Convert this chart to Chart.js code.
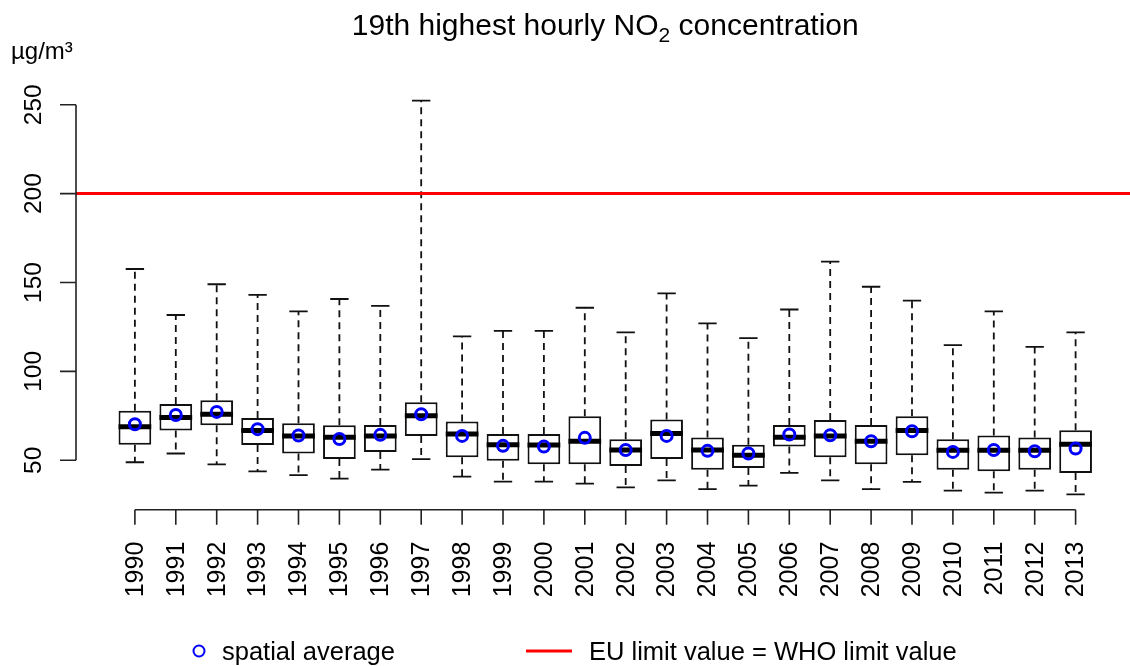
<!DOCTYPE html>
<html><head><meta charset="utf-8">
<script src="https://cdn.jsdelivr.net/npm/chart.js@4"></script>
<style>html,body{margin:0;padding:0;background:#fff;overflow:hidden}canvas{display:block}</style>
</head><body>
<canvas id="c" width="1130" height="666"></canvas>
<script>
const years = ['1990','1991','1992','1993','1994','1995','1996','1997','1998','1999','2000','2001','2002','2003','2004','2005','2006','2007','2008','2009','2010','2011','2012','2013'];
const whiskerMax = [157.6,131.7,149,143,133.8,140.7,136.8,252.3,119.7,122.8,122.8,135.8,121.9,143.9,127,118.7,134.8,161.7,147.6,139.8,114.8,133.8,113.8,121.9];
const q3 = [77.8,81.7,83.8,73.8,70.8,69.7,69.9,82.7,71.8,64.8,64.8,74.8,61.8,72.9,62.8,58.8,69.9,72.7,69.9,74.8,61.8,63.9,62.8,66.9];
const median = [68.8,74,75.9,66.7,63.7,63,63.7,75,64.8,58.8,58.6,60.7,55.8,65,55.8,52.8,63,63.7,60.7,66.7,55.6,55.6,55.6,59];
const q1 = [58.8,66.7,69.7,58.6,53.8,50.7,54.7,63.7,51.7,49.8,47.7,47.7,46.8,50.7,44.7,45.7,57.7,51.7,47.7,52.8,44.7,43.8,44.7,42.9];
const whiskerMin = [48.9,53.8,47.7,43.8,41.7,39.7,44.7,50.7,40.8,38,38,36.9,34.8,38.7,33.8,35.7,42.9,38.7,33.8,37.8,32.9,31.8,32.9,30.8];
const spatialAverage = [70.3,75.5,77.2,67.5,63.9,62,64.3,75.9,63.7,58.1,57.7,62.6,55.8,63.7,55.3,53.8,64.5,64.1,60.7,66.3,54.7,55.8,55.1,56.6];
const yTicks = [50,100,150,200,250];
const limitValue = 200;

const FONT = "'Liberation Sans', Arial, Helvetica, sans-serif";

const boxPlugin = {
  id: 'boxExtras',
  beforeDatasetsDraw(chart) {
    const ctx = chart.ctx, xs = chart.scales.x, ys = chart.scales.y;
    const meta = chart.getDatasetMeta(0);
    ctx.save();
    ctx.strokeStyle = '#111';
    ctx.lineWidth = 1.8;
    years.forEach((_, i) => {
      const el = meta.data[i];
      const x = xs.getPixelForValue(i + 1);
      const half = el.width / 4 + 1;
      ctx.setLineDash([7, 5]);
      ctx.beginPath();
      ctx.moveTo(x, ys.getPixelForValue(q3[i]));
      ctx.lineTo(x, ys.getPixelForValue(whiskerMax[i]));
      ctx.moveTo(x, ys.getPixelForValue(q1[i]));
      ctx.lineTo(x, ys.getPixelForValue(whiskerMin[i]));
      ctx.stroke();
      ctx.setLineDash([]);
      ctx.beginPath();
      ctx.moveTo(x - half, ys.getPixelForValue(whiskerMax[i]));
      ctx.lineTo(x + half, ys.getPixelForValue(whiskerMax[i]));
      ctx.moveTo(x - half, ys.getPixelForValue(whiskerMin[i]));
      ctx.lineTo(x + half, ys.getPixelForValue(whiskerMin[i]));
      ctx.stroke();
    });
    ctx.restore();
  },
  afterDatasetDraw(chart, args) {
    if (args.index !== 0) return;
    const ctx = chart.ctx, ys = chart.scales.y;
    ctx.save();
    ctx.strokeStyle = '#000';
    ctx.lineWidth = 5;
    args.meta.data.forEach((el, i) => {
      const y = ys.getPixelForValue(median[i]);
      ctx.beginPath();
      ctx.moveTo(el.x - el.width / 2, y);
      ctx.lineTo(el.x + el.width / 2, y);
      ctx.stroke();
    });
    ctx.restore();
  },
  afterDraw(chart) {
    const ctx = chart.ctx, xs = chart.scales.x, ys = chart.scales.y, ca = chart.chartArea;
    ctx.save();
    // limit line
    ctx.strokeStyle = '#ff0000';
    ctx.lineWidth = 3;
    ctx.beginPath();
    const yl = ys.getPixelForValue(limitValue);
    ctx.moveTo(ca.left, yl); ctx.lineTo(ca.right, yl);
    ctx.stroke();

    // y axis
    ctx.strokeStyle = '#222';
    ctx.lineWidth = 1.6;
    ctx.beginPath();
    ctx.moveTo(ca.left, ys.getPixelForValue(yTicks[0]));
    ctx.lineTo(ca.left, ys.getPixelForValue(yTicks[yTicks.length - 1]));
    yTicks.forEach(t => {
      const y = ys.getPixelForValue(t);
      ctx.moveTo(ca.left - 16, y); ctx.lineTo(ca.left, y);
    });
    ctx.stroke();
    ctx.fillStyle = '#000';
    ctx.font = `24.5px ${FONT}`;
    yTicks.forEach(t => {
      const y = ys.getPixelForValue(t);
      ctx.save();
      ctx.translate(ca.left - 35, y);
      ctx.rotate(-Math.PI / 2);
      ctx.textAlign = 'center';
      ctx.textBaseline = 'alphabetic';
      ctx.fillText(String(t), 0, 0);
      ctx.restore();
    });

    // x axis
    const yb = ca.bottom;
    ctx.beginPath();
    ctx.moveTo(xs.getPixelForValue(1), yb);
    ctx.lineTo(xs.getPixelForValue(years.length), yb);
    years.forEach((_, i) => {
      const x = xs.getPixelForValue(i + 1);
      ctx.moveTo(x, yb); ctx.lineTo(x, yb + 15);
    });
    ctx.stroke();
    ctx.font = `25px ${FONT}`;
    years.forEach((yr, i) => {
      const x = xs.getPixelForValue(i + 1);
      ctx.save();
      ctx.translate(x + 1, yb + 32);
      ctx.rotate(-Math.PI / 2);
      ctx.textAlign = 'right';
      ctx.textBaseline = 'middle';
      ctx.fillText(yr, 0, 0);
      ctx.restore();
    });

    // unit label
    ctx.font = `24px ${FONT}`;
    ctx.textAlign = 'left';
    ctx.textBaseline = 'alphabetic';
    ctx.fillText('µg/m³', 11, 59);

    // title with subscript
    const cx = xs.getPixelForValue((1 + years.length) / 2);
    const p1 = '19th highest hourly NO', p2 = '2', p3 = ' concentration';
    ctx.font = `30px ${FONT}`;
    const w1 = ctx.measureText(p1).width, w3 = ctx.measureText(p3).width;
    ctx.font = `21px ${FONT}`;
    const w2 = ctx.measureText(p2).width;
    let sx = cx - (w1 + w2 + w3) / 2;
    ctx.font = `30px ${FONT}`;
    ctx.fillText(p1, sx, 35);
    ctx.font = `21px ${FONT}`;
    ctx.fillText(p2, sx + w1, 42);
    ctx.font = `30px ${FONT}`;
    ctx.fillText(p3, sx + w1 + w2, 35);

    // legend
    ctx.strokeStyle = '#0000ff';
    ctx.lineWidth = 2;
    ctx.beginPath();
    ctx.arc(199, 651, 5.5, 0, Math.PI * 2);
    ctx.stroke();
    ctx.font = `25.5px ${FONT}`;
    ctx.fillStyle = '#000';
    ctx.fillText('spatial average', 222, 660);
    ctx.strokeStyle = '#ff0000';
    ctx.lineWidth = 3;
    ctx.beginPath();
    ctx.moveTo(526, 651); ctx.lineTo(572, 651);
    ctx.stroke();
    ctx.fillText('EU limit value = WHO limit value', 589, 660);
    ctx.restore();
  }
};

new Chart(document.getElementById('c'), {
  type: 'bar',
  data: {
    datasets: [
      {
        type: 'bar',
        label: 'box',
        data: years.map((_, i) => ({ x: i + 1, y: [q1[i], q3[i]] })),
        backgroundColor: '#ffffff',
        borderColor: '#111',
        borderWidth: 2,
        borderSkipped: false,
        barPercentage: 0.8,
        categoryPercentage: 1,
        order: 2
      },
      {
        type: 'scatter',
        label: 'spatial average',
        data: years.map((_, i) => ({ x: i + 1, y: spatialAverage[i] })),
        pointRadius: 5.5,
        pointHoverRadius: 5.5,
        pointBorderWidth: 3,
        borderColor: '#0000ff',
        backgroundColor: 'rgba(0,0,0,0)',
        order: 1
      }
    ]
  },
  options: {
    responsive: false,
    animation: false,
    devicePixelRatio: 1,
    layout: { autoPadding: false, padding: { left: 76, right: 0, top: 85.5, bottom: 156.3 } },
    plugins: { legend: { display: false }, tooltip: { enabled: false }, title: { display: false } },
    scales: {
      x: {
        type: 'linear', min: -0.44, max: 25.33, display: false, offset: false,
        afterBuildTicks: s => { s.ticks = years.map((_, i) => ({ value: i + 1 })); }
      },
      y: { type: 'linear', min: 22.2, max: 260.8, display: false }
    }
  },
  plugins: [boxPlugin]
});
</script>
</body></html>
